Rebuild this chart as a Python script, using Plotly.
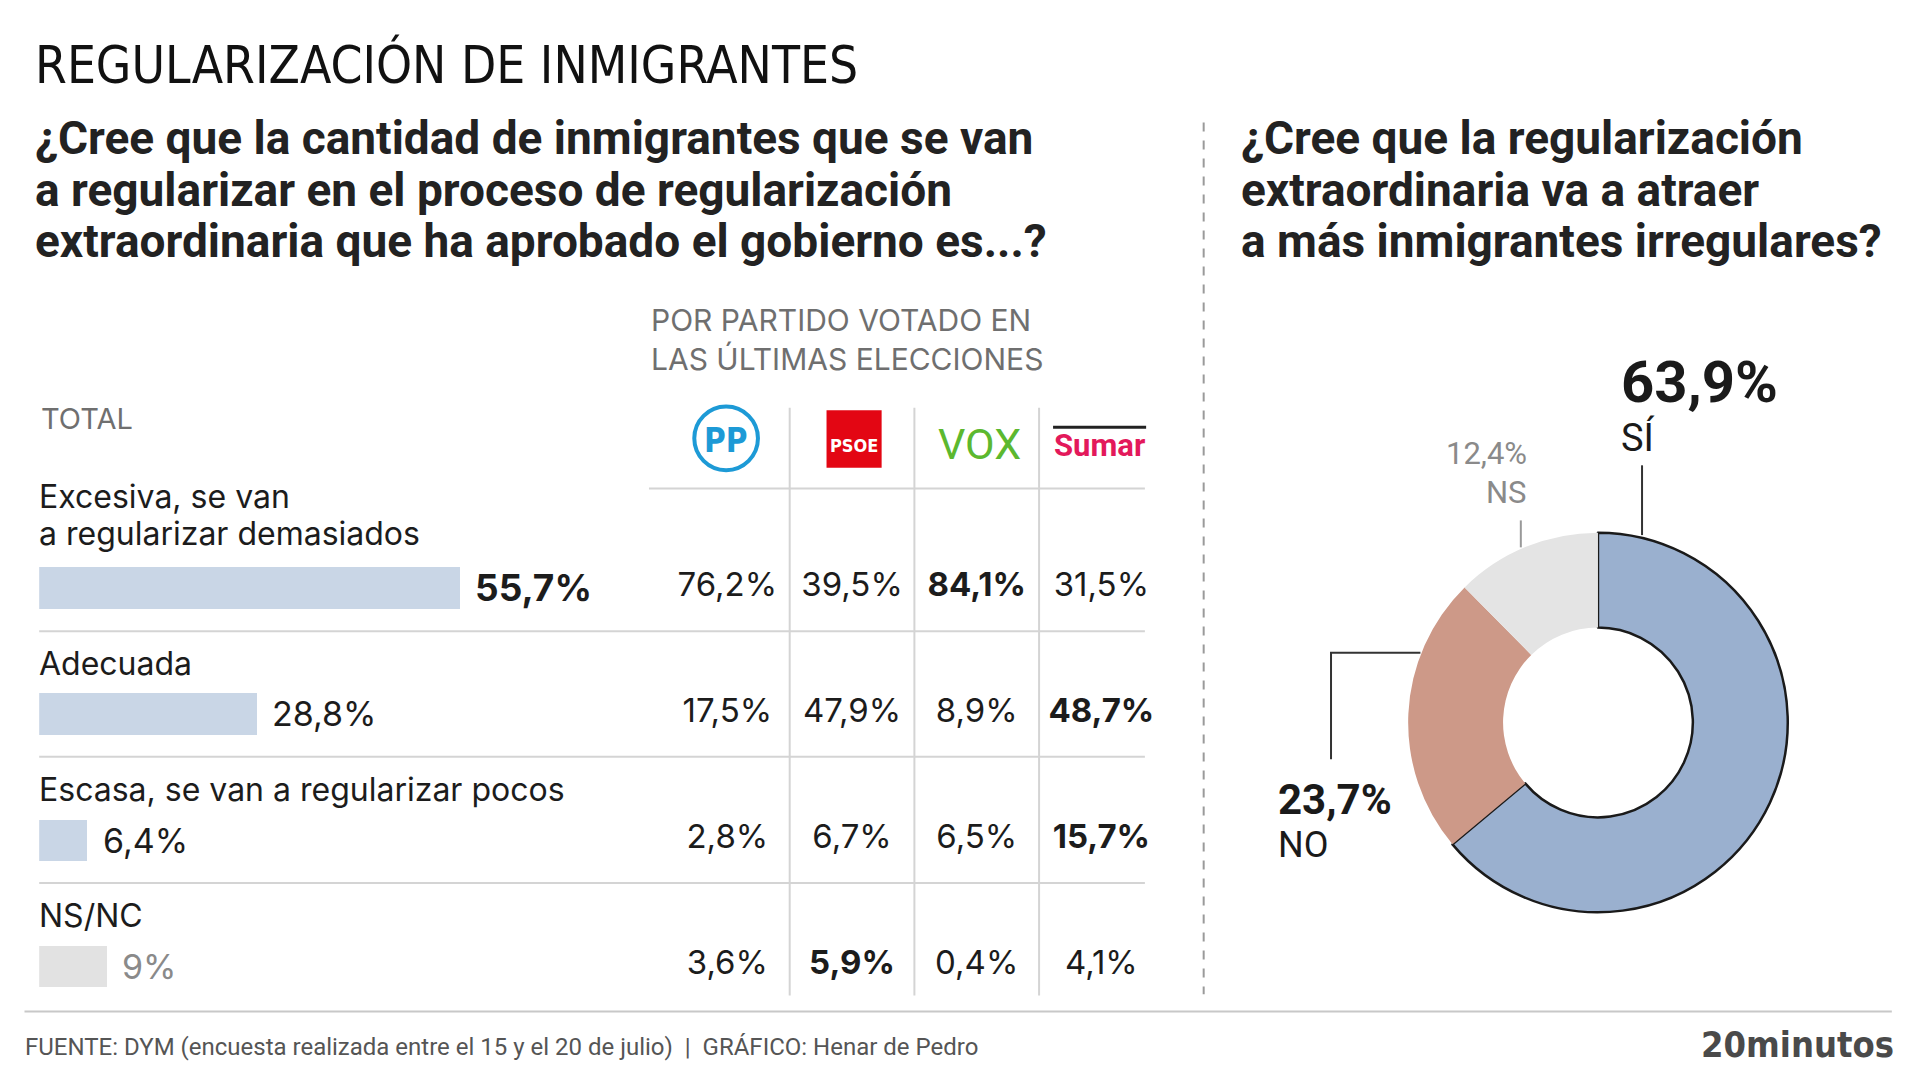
import plotly.graph_objects as go

# ---------------- data ----------------
row_keys = ["Excesiva", "Adecuada", "Escasa", "NS/NC"]
row_labels = [["Excesiva, se van", "a regularizar demasiados"], ["Adecuada"],
              ["Escasa, se van a regularizar pocos"], ["NS/NC"]]
total_values = [55.7, 28.8, 6.4, 9.0]

parties = ["PP", "PSOE", "VOX", "Sumar"]
pp_values = [76.2, 17.5, 2.8, 3.6]
psoe_values = [39.5, 47.9, 6.7, 5.9]
vox_values = [84.1, 8.9, 6.5, 0.4]
sumar_values = [31.5, 48.7, 15.7, 4.1]

donut_labels = ["SÍ", "NO", "NS"]
donut_values = [63.9, 23.7, 12.4]

title = "REGULARIZACIÓN DE INMIGRANTES"
question_left = ["¿Cree que la cantidad de inmigrantes que se van",
                 "a regularizar en el proceso de regularización",
                 "extraordinaria que ha aprobado el gobierno es...?"]
question_right = ["¿Cree que la regularización", "extraordinaria va a atraer",
                  "a más inmigrantes irregulares?"]
source = "FUENTE: DYM (encuesta realizada entre el 15 y el 20 de julio)  |  GRÁFICO: Henar de Pedro"

# ---------------- helpers (layout grid: 1568 x 882 design units) ----------------
W, H = 1920, 1080
GW, GH = 1568.0, 882.0
def px(x): return x / GW
def py(y): return 1 - y / GH
def fmt(v):
    s = f"{v:.1f}".replace(".", ",")
    if s.endswith(",0"):
        s = s[:-2]
    return s + "%"

BODY = "Inter"
HEAD = "Roboto"
COND = "DejaVu Sans Condensed"
DARK = "#1c1c1c"
GREY = "#6f6f6f"
LINE = "#d4d4d4"

fig = go.Figure()

# total bars
bar_colors = ["#c9d6e6", "#c9d6e6", "#c9d6e6", "#e2e2e2"]
fig.add_trace(go.Bar(
    x=total_values, y=row_keys, orientation="h", width=0.33,
    marker=dict(color=bar_colors, line=dict(width=0)),
    xaxis="x", yaxis="y", hoverinfo="skip", showlegend=False))

# party table as text on category axes
party_series = [pp_values, psoe_values, vox_values, sumar_values]
for p, vals in zip(parties, party_series):
    texts = []
    for i, v in enumerate(vals):
        row_max = max(s[i] for s in party_series)
        texts.append(f"<b>{fmt(v)}</b>" if v == row_max else fmt(v))
    fig.add_trace(go.Scatter(
        x=[p] * len(row_keys), y=row_keys, mode="text", text=texts,
        textposition="middle center",
        textfont=dict(family=BODY, size=33, color=DARK),
        xaxis="x2", yaxis="y", hoverinfo="skip", showlegend=False))

# donut
fig.add_trace(go.Pie(
    labels=donut_labels, values=donut_values, hole=0.5, sort=False,
    direction="clockwise", rotation=0, textinfo="none", hoverinfo="skip",
    marker=dict(colors=["#9ab0cf", "#cd9988", "#e4e4e4"],
                line=dict(color="#1a1a1a", width=[2.5, 0, 0])),
    domain=dict(x=[px(1150), px(1460)], y=[py(745), py(435)]),
    showlegend=False))

ann = []
shapes = []

def text(x, y, t, size, color=DARK, family=BODY, xa="left", ya="middle", align="left"):
    ann.append(dict(x=px(x), y=py(y), xref="paper", yref="paper", text=t, showarrow=False,
                    xanchor=xa, yanchor=ya, align=align,
                    font=dict(family=family, size=size, color=color)))

def line(x0, y0, x1, y1, color=LINE, width=2, dash="solid"):
    shapes.append(dict(type="line", xref="paper", yref="paper", x0=px(x0), x1=px(x1),
                       y0=py(y0), y1=py(y1), line=dict(color=color, width=width, dash=dash)))

# bar value labels and row labels
for i, (k, v) in enumerate(zip(row_keys, total_values)):
    txt = f"<b>{fmt(v)}</b>" if i == 0 else fmt(v)
    col = "#8a8a8a" if k == "NS/NC" else DARK
    ann.append(dict(x=v, y=k, xref="x", yref="y", text=txt, showarrow=False,
                    xanchor="left", yanchor="middle", xshift=13,
                    font=dict(family=BODY, size=37 if i == 0 else 34, color=col)))
    lines = row_labels[i]
    base = 33 if len(lines) > 1 else 29
    for j, lab in enumerate(reversed(lines)):
        ann.append(dict(x=0, y=k, xref="x", yref="y", text=lab, showarrow=False,
                        xanchor="left", yanchor="bottom", yshift=base + 37 * j, xshift=-2,
                        align="left", font=dict(family=BODY, size=32, color=DARK)))

# row separators
for yv in [0.345, 1.34, 2.34]:
    shapes.append(dict(type="line", xref="paper", yref="y", x0=px(32), x1=px(935),
                       y0=yv, y1=yv, line=dict(color=LINE, width=2)))
# header line of table
line(530, 399, 935, 399)
# column separators
for xv in [0.5, 1.5, 2.5]:
    shapes.append(dict(type="line", xref="x2", yref="paper", x0=xv, x1=xv,
                       y0=py(333), y1=py(813), line=dict(color=LINE, width=2)))

# logos
shapes.append(dict(type="circle", xref="paper", yref="paper",
                   x0=px(567), x1=px(619), y0=py(384), y1=py(332),
                   line=dict(color="#1d9ad6", width=4)))
text(593, 360, "<b>PP</b>", 33, "#1d9ad6", COND, xa="center")
shapes.append(dict(type="rect", xref="paper", yref="paper",
                   x0=px(675), x1=px(720), y0=py(382), y1=py(335),
                   fillcolor="#e30613", line=dict(width=0)))
text(697.5, 364, "<b>PSOE</b>", 18, "white", COND, xa="center")
text(800, 363, "VOX", 43, "#5cb82f", HEAD, xa="center")
line(860, 349, 936, 349, "#222", 3)
text(898, 364, "<b>Sumar</b>", 31, "#e3195b", HEAD, xa="center")

# titles and headers
text(27, 53, title, 51, "#111", COND)
for j, (ql, qr) in enumerate(zip(question_left, question_right)):
    text(27, 113 + 42 * j, f"<b>{ql}</b>", 46, "#222", HEAD)
    text(1012, 113 + 42 * j, f"<b>{qr}</b>", 46, "#222", HEAD)
text(530, 277, "POR PARTIDO VOTADO EN<br>LAS ÚLTIMAS ELECCIONES", 30, GREY, BODY)
text(32, 342, "TOTAL", 29, GREY, BODY)

# dashed divider
line(983, 100, 983, 812, "#9a9a9a", 2, "dash")

# donut labels (value + name in a single block each)
text(1322, 330, f"<span style='font-size:58px'><b>{fmt(donut_values[0])}</b></span><br>"
     f"{donut_labels[0]}", 38, "#1a1a1a", HEAD)
text(1249, 370, fmt(donut_values[2]), 31, "#8a8a8a", HEAD, xa="right")
text(1249, 402, donut_labels[2], 31, "#8a8a8a", HEAD, xa="right")
text(1042, 670, f"<span style='font-size:42px'><b>{fmt(donut_values[1])}</b></span><br>"
     f"<span style='font-size:36px'>{donut_labels[1]}</span>", 33, "#1a1a1a", HEAD)
# leader lines
line(1341, 380, 1341, 437, "#333", 2)
line(1242, 425, 1242, 447, "#999", 2)
shapes.append(dict(type="path", xref="paper", yref="paper",
                   path=f"M {px(1160)},{py(533)} L {px(1087)},{py(533)} L {px(1087)},{py(620)}",
                   line=dict(color="#333", width=2)))

# footer
line(20, 826, 1545, 826, "#c8c8c8", 2)
text(19, 855, source, 24, "#555", HEAD)
text(1548, 853, "<b>20minutos</b>", 36, "#4a4a4a", COND, xa="right")

fig.update_layout(
    width=W, height=H, margin=dict(l=0, r=0, t=0, b=0),
    paper_bgcolor="white", plot_bgcolor="rgba(0,0,0,0)",
    xaxis=dict(domain=[px(32), px(32 + 617.6)], range=[0, 100], visible=False, fixedrange=True),
    xaxis2=dict(domain=[px(543.1), px(950.4)], range=[-0.5, 3.5], type="category",
                categoryorder="array", categoryarray=parties, visible=False,
                anchor="y", fixedrange=True),
    yaxis=dict(domain=[py(840.5), py(428.5)], range=[3.5, -0.5], type="category",
               categoryorder="array", categoryarray=row_keys, visible=False, fixedrange=True),
    annotations=ann, shapes=shapes, bargap=0,
)

fig.write_html("out.html", post_script="document.body.style.margin='0';",
               config={"displayModeBar": False})
